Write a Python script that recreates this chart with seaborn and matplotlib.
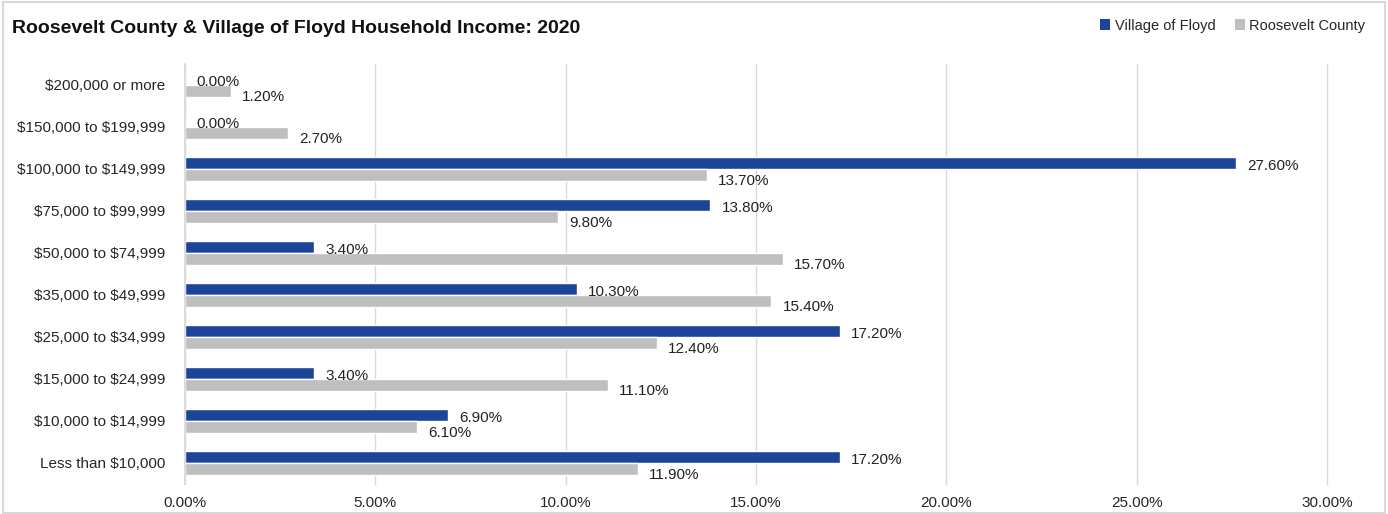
import matplotlib
matplotlib.use("Agg")
import matplotlib.pyplot as plt
import matplotlib.font_manager as fm
from matplotlib.patches import Rectangle, Patch
import seaborn as sns
import pandas as pd

categories = ["$200,000 or more", "$150,000 to $199,999", "$100,000 to $149,999",
              "$75,000 to $99,999", "$50,000 to $74,999", "$35,000 to $49,999",
              "$25,000 to $34,999", "$15,000 to $24,999", "$10,000 to $14,999",
              "Less than $10,000"]
floyd = [0.0, 0.0, 27.6, 13.8, 3.4, 10.3, 17.2, 3.4, 6.9, 17.2]
roosevelt = [1.2, 2.7, 13.7, 9.8, 15.7, 15.4, 12.4, 11.1, 6.1, 11.9]
series = ["Village of Floyd", "Roosevelt County"]
colors = ["#1C4599", "#BFBFBF"]
xticks = [0, 5, 10, 15, 20, 25, 30]

names = {f.name for f in fm.fontManager.ttflist}
fam = "Liberation Sans Narrow" if "Liberation Sans Narrow" in names else "Liberation Sans"

sns.set_theme(style="white")
plt.rcParams["font.family"] = [fam, "DejaVu Sans"]
plt.rcParams["text.parse_math"] = False

df = pd.DataFrame({
    "cat": categories * 2,
    "val": floyd + roosevelt,
    "series": [series[0]] * len(categories) + [series[1]] * len(categories),
})

fig = plt.figure(figsize=(13.88, 5.14), dpi=100)
ax = fig.add_axes([0.1333, 0.0584, 0.9561 - 0.1333, 0.8755 - 0.0584])
sns.barplot(data=df, y="cat", x="val", hue="series", order=categories,
            hue_order=series, palette=colors, orient="h", width=0.57, gap=0.06,
            ax=ax, legend=False, saturation=1)

ax.set_xlim(0, 30)
ax.set_xticks(xticks)
ax.set_xticklabels([f"{t:.2f}%" for t in xticks], fontsize=11)
ax.set_ylim(len(categories) - 0.5, -0.5)
ax.set_xlabel("")
ax.set_ylabel("")
ax.tick_params(axis="y", labelsize=11, length=0, pad=14)
ax.tick_params(axis="x", length=0, pad=9)
ax.grid(axis="x", color="#D9D9D9", linewidth=1)
for gl in ax.get_xgridlines():
    gl.set_clip_on(False)
ax.set_axisbelow(True)
for s in ["top", "right", "bottom"]:
    ax.spines[s].set_visible(False)
ax.spines["left"].set_color("#D9D9D9")

for ci, cont in enumerate(ax.containers):
    for bar, v in zip(cont, floyd if ci == 0 else roosevelt):
        y = bar.get_y() + bar.get_height() / 2
        dy = -2 if ci == 0 else -4
        ax.annotate(f"{v:.2f}%", (bar.get_width(), y), xytext=(8, dy),
                    textcoords="offset points", va="center", ha="left",
                    fontsize=11, color="#222222")

fig.text(0.0087, 0.945, "Roosevelt County & Village of Floyd Household Income: 2020",
         fontsize=14, fontweight="bold", ha="left", va="center", color="#111111")

handles = [Patch(facecolor=c, edgecolor="none") for c in colors]
fig.legend(handles, series, loc="center right", bbox_to_anchor=(0.993, 0.95), ncol=2,
           frameon=False, fontsize=10.5, handlelength=0.7, handleheight=0.7,
           handletextpad=0.3, columnspacing=1.3)

fig.patches.append(Rectangle((0.002, 0.002), 0.996, 0.994, transform=fig.transFigure,
                             fill=False, edgecolor="#D9D9D9", linewidth=1.5))

fig.savefig("out.png", dpi=100)
